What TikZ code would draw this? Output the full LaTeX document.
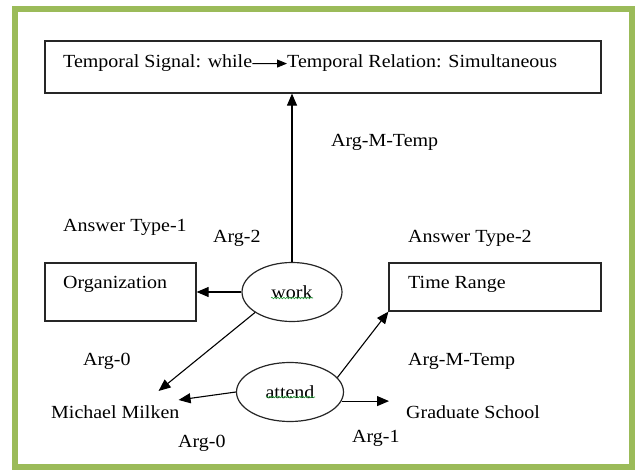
\documentclass[tikz,border=0pt]{standalone}
\usepackage{fontspec}
\setmainfont{Liberation Serif}[FakeStretch=1.08]
\usetikzlibrary{shapes.geometric,arrows.meta,calc,decorations.pathmorphing}
\definecolor{framegreen}{RGB}{155,187,89}
\definecolor{spellgreen}{RGB}{40,160,60}

\begin{document}
\begin{tikzpicture}
        [x=1pt,y=-1pt,
         every node/.style={font=\fontsize{18.5}{20}\selectfont,inner sep=0pt},
         box/.style={draw=black!85,line width=1.2pt,rectangle},
         verb/.style={draw=black!85,line width=1.2pt,ellipse},
         lbl/.style={anchor=base west},
         arr/.style={-{Triangle[length=12pt,width=10pt]},line width=1.1pt},
         tarr/.style={-{Triangle[length=10pt,width=8pt]},line width=0.9pt},
         spell/.style={spellgreen,line width=0.6pt,decorate,decoration={snake,amplitude=0.8pt,segment length=3pt}}]
        \useasboundingbox (0,0) rectangle (637,470);
        \draw[framegreen,line width=6pt] (15,9) rectangle (632,467);

        \node[box,minimum width=556pt,minimum height=52pt] (top) at (323,67) {};
        \node[box,minimum width=151pt,minimum height=58pt] (org) at (120.5,292) {};
        \node[box,minimum width=212pt,minimum height=48pt] (time) at (495,287) {};
        \node[verb,minimum width=100pt,minimum height=59pt] (work) at (292,292) {work};
        \node[verb,minimum width=107pt,minimum height=59pt] (attend) at (290,392) {attend};

        \node[lbl] (sig) at (63,68) {Temporal Signal: while};
        \node[lbl] (rel) at (287,68) {Temporal Relation: Simultaneous};
        \node[lbl] (tmpa) at (331,147) {Arg-M-Temp};
        \node[lbl] (typea) at (63,232) {Answer Type-1};
        \node[lbl] (argtwo) at (213,243) {Arg-2};
        \node[lbl] (typeb) at (408,243) {Answer Type-2};
        \node[lbl] (orgtxt) at (63,288) {Organization};
        \node[lbl] (timetxt) at (408,288) {Time Range};
        \node[lbl] (zeroa) at (83,365) {Arg-0};
        \node[lbl] (tmpb) at (408,365) {Arg-M-Temp};
        \node[lbl] (milken) at (51,418) {Michael Milken};
        \node[lbl] (grad) at (406,418) {Graduate School};
        \node[lbl] (zerob) at (178,447) {Arg-0};
        \node[lbl] (argone) at (352,442) {Arg-1};

        \draw[spell] ($(work.center)+(-21,6)$) -- ($(work.center)+(21,6)$);
        \draw[spell] ($(attend.center)+(-24,5)$) -- ($(attend.center)+(25,5)$);

        \draw[tarr] (sig.east) -- (rel.west);
        \draw[arr] (work.north) -- (work.north |- top.south);
        \draw[arr] (work.west) -- (org.east);
        \draw[arr] (work.209) -- ($(milken.north east)+(-21,-14)$);
        \draw[arr] (attend.west) -- ($(milken.north east)+(-1,-5)$);
        \draw[arr] (attend.-10) -- ($(attend.-10 -| grad.west)+(-17,0)$);
        \draw[arr] (attend.17) -- (time.south west);
    \end{tikzpicture}
\end{document}
